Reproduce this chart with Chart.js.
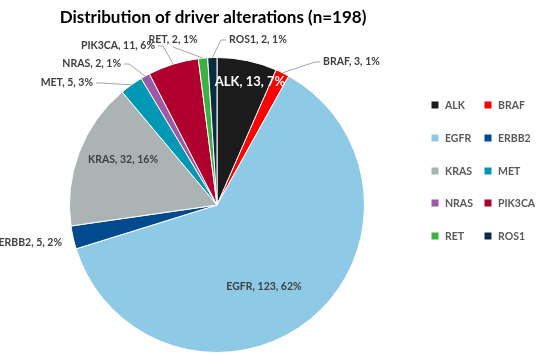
<!DOCTYPE html>
<html><head><meta charset="utf-8">
<script src="https://cdn.jsdelivr.net/npm/chart.js@4/dist/chart.umd.min.js"></script>
<style>html,body{margin:0;padding:0;background:#fff;}canvas{display:block;}</style>
</head><body>
<canvas id="c" width="536" height="355"></canvas>
<script>
const categories = ['ALK','BRAF','EGFR','ERBB2','KRAS','MET','NRAS','PIK3CA','RET','ROS1'];
const counts = [13,3,123,5,32,5,2,11,2,2];
const percentLabels = ['7%','1%','62%','2%','16%','3%','1%','6%','1%','1%'];
const colors = ['#1b1b1b','#ff0000','#8ecae6','#004a8d','#abb3b4','#0098b4','#9b59a6','#b0002d','#3cb043','#0c2a40'];
const titleText = 'Distribution of driver alterations (n=198)';

// label placement (offsets from pie centre, px)
const labelLayout = [
  {mode:'in', dx:33, dy:-123, color:'#ffffff', size:13},
  {mode:'out', dx:106, dy:-143, align:'left', lead:'left'},
  {mode:'in', dx:47, dy:82, color:'#404040'},
  {mode:'out', dx:-155, dy:38, align:'right', lead:'none'},
  {mode:'in', dx:-94, dy:-45, color:'#404040'},
  {mode:'out', dx:-124, dy:-122, align:'right', lead:'right'},
  {mode:'out', dx:-96, dy:-141, align:'right', lead:'right'},
  {mode:'out', dx:-62, dy:-159, align:'right', lead:'right'},
  {mode:'out', dx:-44, dy:-165, align:'center', lead:'below'},
  {mode:'out', dx:12, dy:-165, align:'left', lead:'left'}
];

const FONT = 'Lato, "Open Sans", sans-serif';

const overlay = {
  id:'overlay',
  afterDraw(chart){
    const ctx = chart.ctx;
    const meta = chart.getDatasetMeta(0);
    const arc0 = meta.data[0];
    const cx = arc0.x, cy = arc0.y;
    ctx.save();
    // title
    ctx.fillStyle = '#000';
    ctx.font = 'bold 17px ' + FONT;
    ctx.textAlign = 'center';
    ctx.textBaseline = 'middle';
    ctx.fillText(titleText, 213, 18);

    // labels
    meta.data.forEach((arc, i) => {
      const L = labelLayout[i];
      const txt = categories[i] + ', ' + counts[i] + ', ' + percentLabels[i];
      const x = cx + L.dx, y = cy + L.dy;
      ctx.font = 'bold ' + (L.size || 10.5) + 'px ' + FONT;
      ctx.textBaseline = 'middle';
      if (L.mode === 'in') {
        ctx.fillStyle = L.color;
        ctx.textAlign = 'center';
        ctx.fillText(txt, x, y);
        return;
      }
      ctx.fillStyle = '#404040';
      ctx.textAlign = L.align;
      ctx.fillText(txt, x, y);
      const w = ctx.measureText(txt).width;
      const mid = (arc.startAngle + arc.endAngle) / 2;
      const r = arc.outerRadius;
      const ex = cx + Math.cos(mid) * r, ey = cy + Math.sin(mid) * r;
      let sx, sy, kx, ky;
      if (L.lead === 'none') return;
      if (L.lead === 'left') {
        const lx = L.align === 'left' ? x : x - w;
        sx = lx - 3; sy = y; kx = lx - 8; ky = y;
      } else if (L.lead === 'right') {
        const rx = L.align === 'right' ? x : x + w;
        sx = rx + 3; sy = y; kx = rx + 8; ky = y;
      } else {
        sx = x; sy = y + 7; kx = x; ky = y + 7;
      }
      ctx.strokeStyle = '#a6a6a6';
      ctx.lineWidth = 1;
      ctx.beginPath();
      ctx.moveTo(sx, sy); ctx.lineTo(kx, ky); ctx.lineTo(ex, ey);
      ctx.stroke();
    });

    // legend
    const colX = [435, 488];
    const rowY = [105, 138, 171, 203, 236];
    ctx.font = 'bold 10.5px ' + FONT;
    ctx.textAlign = 'left';
    ctx.textBaseline = 'middle';
    categories.forEach((c, i) => {
      const x = colX[i % 2], y = rowY[Math.floor(i / 2)];
      ctx.fillStyle = colors[i];
      ctx.fillRect(x - 3.5, y - 3.5, 7, 7);
      ctx.fillStyle = '#595959';
      ctx.fillText(c, x + 10, y + 0.5);
    });
    ctx.restore();
  }
};

new Chart(document.getElementById('c'), {
  type: 'pie',
  data: {
    labels: categories,
    datasets: [{
      data: counts,
      backgroundColor: colors,
      borderColor: '#ffffff',
      borderWidth: 1
    }]
  },
  options: {
    responsive: false,
    animation: false,
    devicePixelRatio: 1,
    layout: { padding: { left: 69, right: 171, top: 57, bottom: 2 } },
    plugins: { legend: { display: false }, title: { display: false }, tooltip: { enabled: false } }
  },
  plugins: [overlay]
});
</script>
</body></html>
